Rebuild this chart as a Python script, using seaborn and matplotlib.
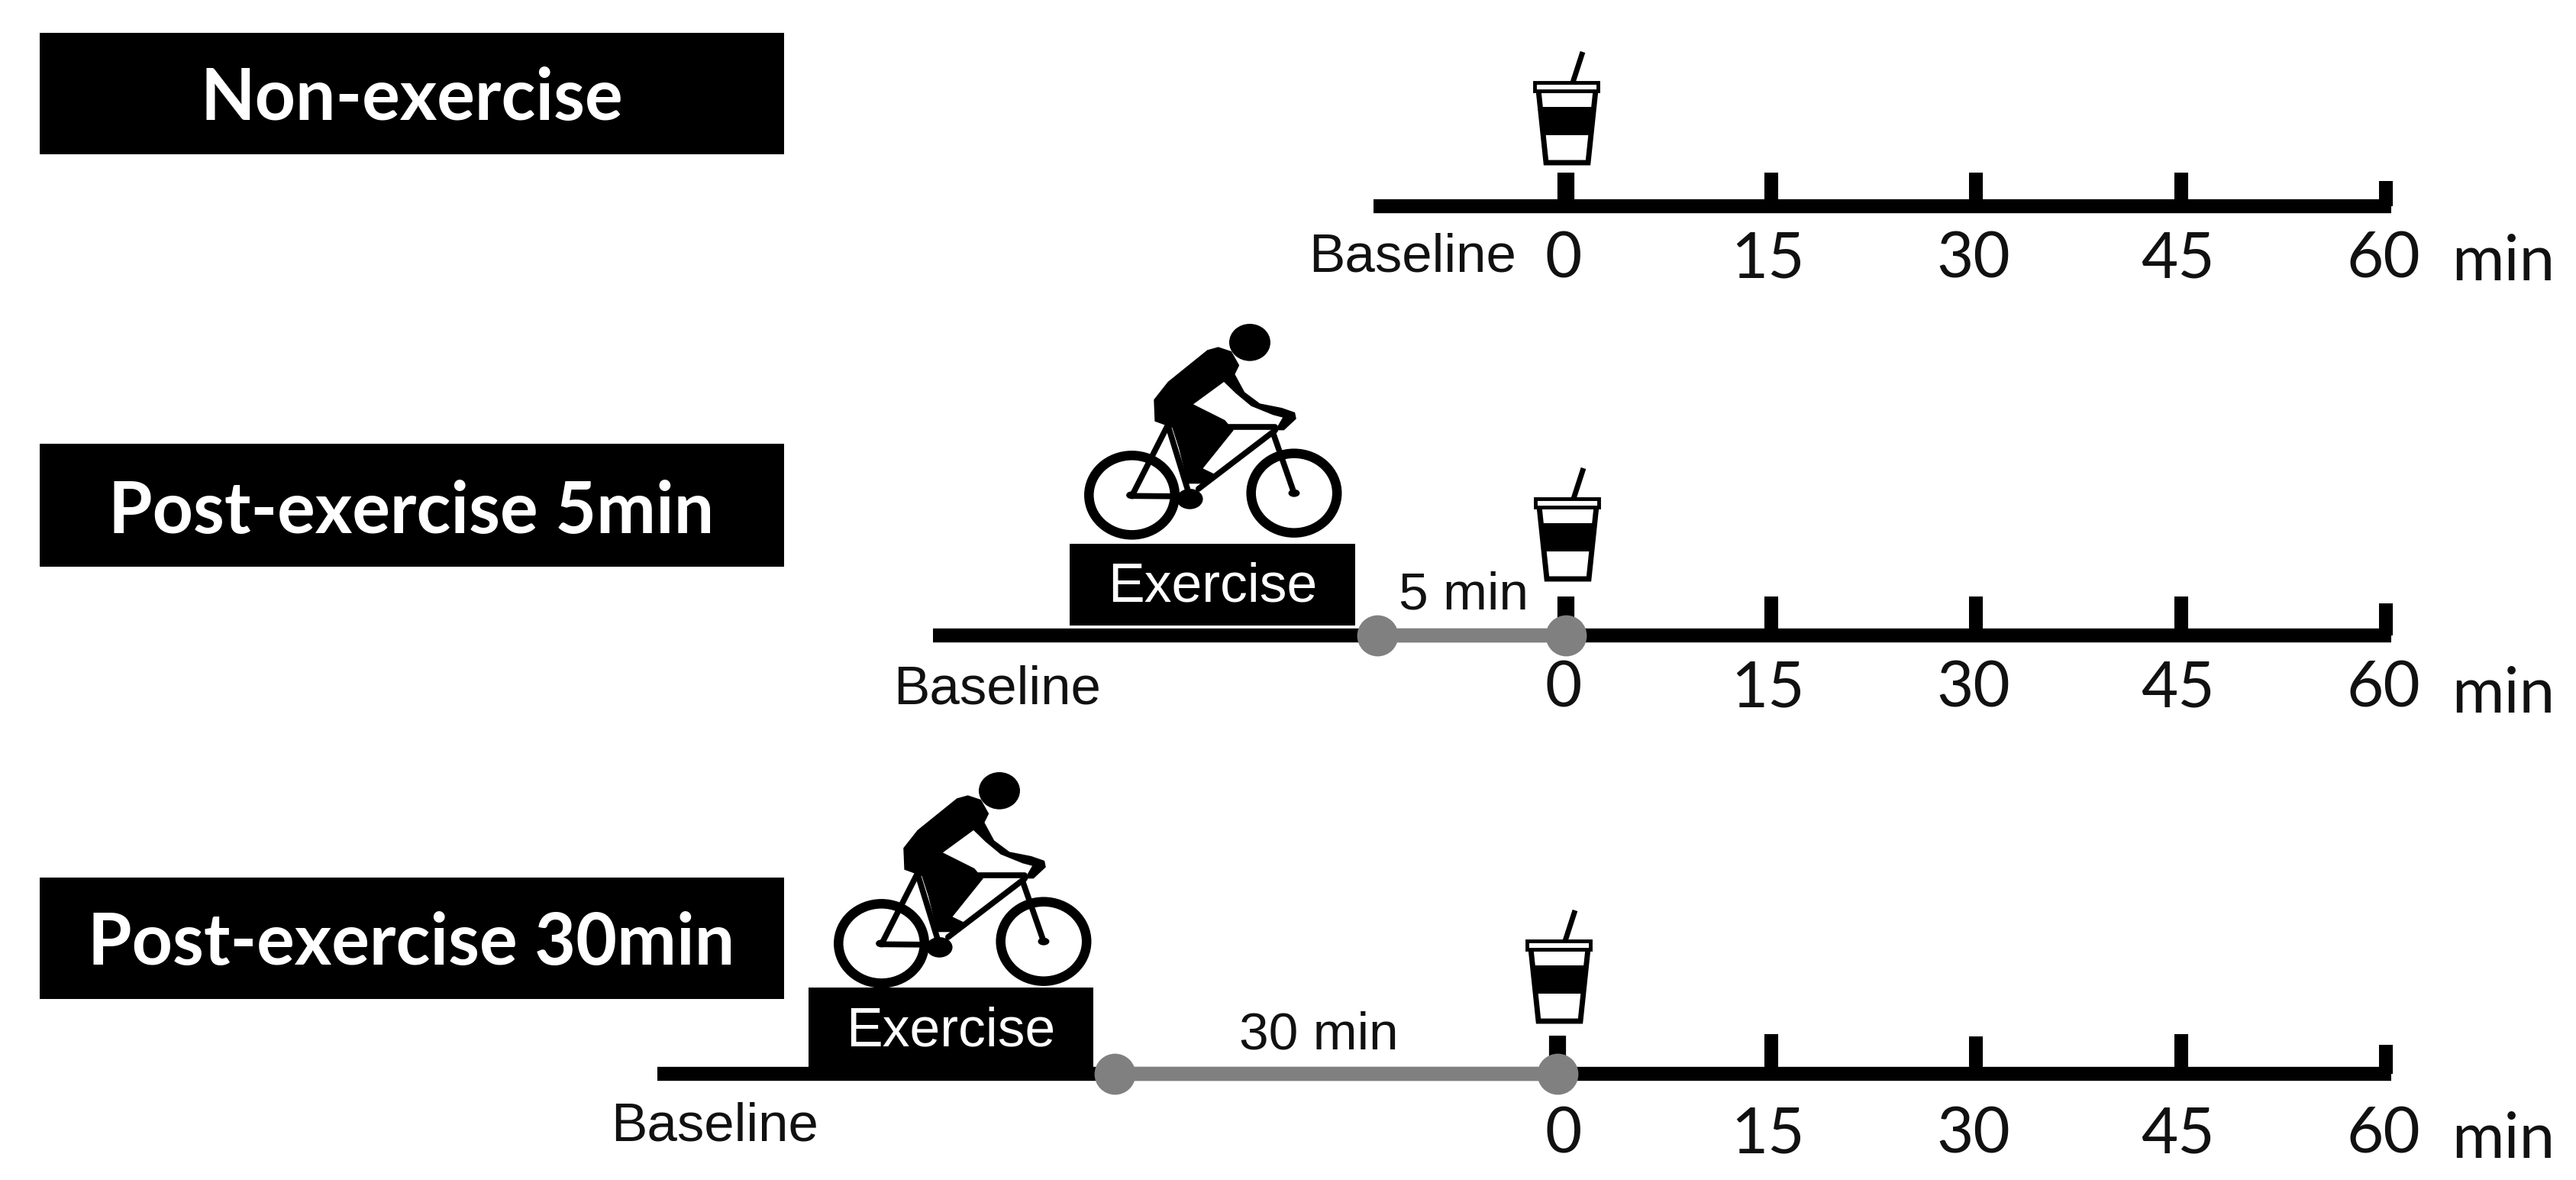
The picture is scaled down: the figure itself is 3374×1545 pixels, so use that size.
import matplotlib
matplotlib.use('Agg')
import matplotlib.pyplot as plt
import seaborn as sns
import pandas as pd
from matplotlib.patches import Rectangle, Ellipse, Polygon
from matplotlib.transforms import Affine2D

W, H = 3374, 1545

# chart content
row_names = ['Non-exercise', 'Post-exercise 5min', 'Post-exercise 30min']
tick_minutes = [0, 15, 30, 45, 60]
tick_labels = ['0', '15', '30', '45', '60']
line_start = [-14.1, -46.3, -66.5]
drink_time = [0.0, 0.0, -0.6]
exercise_start = [None, -36.3, -55.4]
exercise_end = [None, -15.4, -34.6]
rest_start = [None, -13.8, -33.0]
rest_labels = [None, '5 min', '30 min']
rest_label_x = [None, -7.5, -18.1]

# layout in pixels
line_y = [270, 832, 1406]
tick_rise = [[44, 44, 44, 44, 33], [51, 51, 51, 51, 42], [50, 52, 49, 52, 38]]
box_y = [(43, 202), (581, 742), (1149, 1308)]
label_y = [340, 902, 1487]
min_y = [344, 910, 1493]
base_x = [1850, 1306, 936]
base_y = [337, 903, 1476]
title_y = [130, 671, 1236]
ex_box_y = [None, (712, 819), (1293, 1400)]
rest_text_y = [None, 780, 1356]
cup_offset = [(0, 0), (1, 545), (-10, 1124)]
bike_offset = [None, (0, 0), (-328, 587)]

sns.set_theme(style='white')
plt.rcParams['font.family'] = ['Liberation Sans', 'DejaVu Sans']

fig = plt.figure(figsize=(W / 100, H / 100), dpi=100, facecolor='white')
ax = fig.add_axes([0, 0, 1, 1])
ax.set_xlim((0 - 2051) / 17.9, (W - 2051) / 17.9)
ax.set_ylim(H, 0)
ax.axis('off')
px = fig.add_axes([0, 0, 1, 1], sharey=ax)
px.set_xlim(0, W)
px.patch.set_alpha(0)
px.axis('off')

# black timelines
rows = []
for i in range(3):
    rows.append({'row': i, 'x': line_start[i], 'y': line_y[i]})
    rows.append({'row': i, 'x': tick_minutes[-1] + 0.4, 'y': line_y[i]})
sns.lineplot(data=pd.DataFrame(rows), x='x', y='y', units='row', estimator=None,
             color='black', lw=13.2, solid_capstyle='butt', ax=ax, legend=False)

# ticks
for i in range(3):
    for m, rise in zip(tick_minutes, tick_rise[i]):
        xm = drink_time[i] if m == 0 else m
        ax.plot([xm, xm], [line_y[i], line_y[i] - rise], color='black',
                lw=16 if m == 0 else 13, solid_capstyle='butt')
    for m, lab in zip(tick_minutes, tick_labels):
        ax.text(m - 0.2, label_y[i], lab, ha='center', va='center',
                family='Lato', fontsize=60, color='#111111')
    ax.text(tick_minutes[-1] + 8.6, min_y[i], 'min', ha='center', va='center',
            family='Lato', fontsize=60, color='#111111')
    px.text(base_x[i], base_y[i], 'Baseline', ha='center', va='center', fontsize=51, color='#111111')

# grey rest period
for i in (1, 2):
    seg = pd.DataFrame({'x': [rest_start[i], drink_time[i]], 'y': [line_y[i]] * 2})
    sns.lineplot(data=seg, x='x', y='y', color='#808080', lw=13, solid_capstyle='butt',
                 ax=ax, legend=False, zorder=4)
    sns.scatterplot(data=seg, x='x', y='y', color='#808080', s=1500, linewidth=0,
                    ax=ax, legend=False, zorder=5)
    ax.text(rest_label_x[i], rest_text_y[i], rest_labels[i], ha='center', va='center',
            fontsize=50, color='#111111')
    y0, y1 = ex_box_y[i]
    ax.add_patch(Rectangle((exercise_start[i], y0), exercise_end[i] - exercise_start[i], y1 - y0,
                           facecolor='black', edgecolor='none', zorder=3))
    ax.text((exercise_start[i] + exercise_end[i]) / 2, (y0 + y1) / 2 + 4, 'Exercise', ha='center',
            va='center', fontsize=51.5, color='white', zorder=6)

# header boxes
for i in range(3):
    y0, y1 = box_y[i]
    px.add_patch(Rectangle((52, y0), 975, y1 - y0, facecolor='black', edgecolor='none'))
    px.text(539, title_y[i], row_names[i], ha='center', va='center', family='Lato',
            weight='bold', fontsize=67, color='white')


def draw_cup(dx, dy):
    tr = Affine2D().translate(dx, dy) + px.transData
    px.plot([2073, 2060], [68, 108], color='black', lw=5, transform=tr, solid_capstyle='butt')
    px.add_patch(Polygon([(2015, 118), (2090, 118), (2080, 213), (2025, 213)], closed=True,
                         facecolor='white', edgecolor='black', lw=5, transform=tr))
    px.add_patch(Polygon([(2017, 140), (2088, 140), (2084, 177), (2021, 177)], closed=True,
                         facecolor='black', edgecolor='none', transform=tr))
    px.add_patch(Rectangle((2010, 108), 83, 11, facecolor='white', edgecolor='black', lw=3.5, transform=tr))


def draw_bike(dx, dy):
    # outline traced in crop units of the reference (1.742 x, 3 y)
    tr = Affine2D().scale(1 / 1.742, 1 / 3).translate(1300 + dx, 400 + dy) + px.transData
    for cx, cy in [(318, 745), (688, 737)]:
        px.add_patch(Ellipse((cx, cy), 196, 312, facecolor='none', edgecolor='black', lw=9, transform=tr))
        px.add_patch(Ellipse((cx, cy), 26, 30, facecolor='black', edgecolor='none', transform=tr))
    px.add_patch(Ellipse((587, 145), 94, 146, facecolor='black', edgecolor='none', transform=tr))
    body = [(490, 175), (515, 163), (545, 180), (563, 235), (553, 270), (575, 340), (610, 385),
            (660, 402), (690, 420), (693, 445), (665, 490), (645, 490), (662, 440), (640, 430),
            (590, 395), (555, 345), (528, 300), (458, 388), (530, 450), (550, 490), (480, 640),
            (510, 665), (480, 700), (445, 700), (425, 560), (410, 480), (370, 455), (368, 370), (400, 300)]
    px.add_patch(Polygon(body, closed=True, facecolor='black', edgecolor='none', transform=tr))
    tubes = [[(318, 748), (400, 470)], [(318, 748), (450, 750)], [(400, 470), (450, 750)],
             [(540, 478), (645, 478)], [(645, 490), (470, 720)], [(640, 500), (688, 737)]]
    for seg in tubes:
        px.plot([seg[0][0], seg[1][0]], [seg[0][1], seg[1][1]], color='black', lw=5.5,
                transform=tr, solid_capstyle='round')
    px.add_patch(Ellipse((450, 760), 60, 80, facecolor='black', edgecolor='none', transform=tr))


for i in range(3):
    draw_cup(*cup_offset[i])
    if bike_offset[i] is not None:
        draw_bike(*bike_offset[i])

ax.set_xlabel('')
ax.set_ylabel('')
px.set_xlim(0, W)
px.set_ylim(H, 0)
fig.savefig('out.png', dpi=100, facecolor='white')
